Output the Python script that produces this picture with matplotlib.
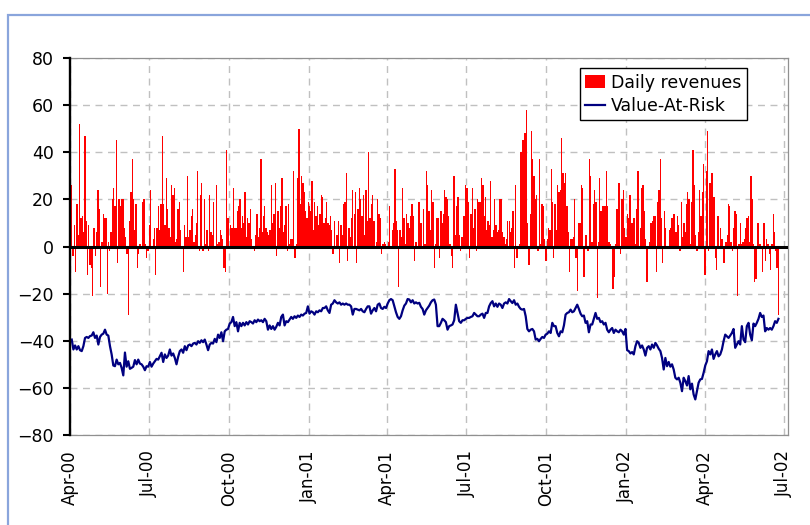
import numpy as np
import pandas as pd
import matplotlib
matplotlib.use("Agg")
import matplotlib.pyplot as plt
from matplotlib.patches import Rectangle, Patch
from matplotlib.lines import Line2D

# daily revenues left to right (Apr-00 .. Jun-02)
revenues = [
    26, -4, 9, -11, 18, 5, 52, 12, 13, 6, 47, 11, -12, 9, -8, -9, -21, 8, -4, 6,
    24, 16, -17, 2, 14, 12, 12, -20, 2, -2, 6, 20, 25, 17, 45, -7, 20, 17, 20, 20,
    8, 4, -3, -29, 11, 23, 37, 20, 7, 18, -9, -3, 1, -1, 19, 20, 1, -5, -2, 9,
    24, -1, 3, 8, -12, 8, 17, 7, 18, 47, 18, 9, 29, 16, 8, 4, 26, 22, 25, 2,
    3, 16, 19, 7, -1, -11, 9, 4, 30, 4, 7, 13, 16, 2, 5, 10, 32, -2, 22, 27,
    -2, 20, 1, 7, -2, 22, 6, 5, 19, 0, 26, 1, 2, 7, 5, 3, -9, -11, 41, 12,
    0, 9, 8, 25, 8, 8, 15, 17, 20, 8, 13, 10, 23,
    4, 12, 10, 16, 3, 0, -2, 5, 14, 4, 8, 37, 6, 13, 17, 8, 6, 5, 7, 26,
    10, 14, 27, -4, 15, 8, 17, 29, 6, 9, 17, -2, 18, 1, 3, 3, 32, -5, 1, 29,
    50, 18, 30, 27, 23, 15, 12, 19, 17, 15, 28, 7, 19, 13, 17, 9, 14, 22, 21, 10,
    12, 19, 10, 9, 13, 7, -3, 11, 0, 5, 11, -7, 9, 5, 18, 19, 31, -6, 8, 4,
    12, 24, 14, 23, -7, 16, 25, 20, 13, 22, 5, 24, 11, 40, 12, 18, 22, 11, -1, 2,
    20, 14, 12, -3, 1, 2, 1, -1, 2, 17, 0, 7, 10, 33, 11, 7, -17, 7, 4, 25,
    12, 1, 14, 10, 8, 13, 18, 13, -6, 2, -1, 19,
    19, 10, -1, 16, 1, 32, 26, 15, 7, 24, 19, -9, 1, 12, 12, -5, 15, 10, 14, 24,
    21, 20, 13, 1, -4, -9, 30, 5, 17, 21, 5, -2, 4, 13, 13, 26, 25, 19, -5, 14,
    25, 8, 16, -2, 20, 19, 19, 29, 26, 13, 21, 7, 11, 9, 28, 4, 7, 20, 9, 6,
    7, 20, 20, 6, 4, 1, 3, 11, 11, 6, 8, 15, -9, 26, -5, 0, 1, 40, 45, 45,
    48, 58, 10, -8, 14, 49, 37, 30, 20, 22, -2, 37, 1, 18, 17, 3, -6, 3, 8, 7,
    33, 19, -5, 18, 7, 26, 23, 24, 46, 31, 27, 31, 17, 6, -11, 3, 3, 4, 20, -5,
    -19, 10, 10, 26, 25, -13, 5, 5, -2, 37, 30, 2, 18, 24, 19, -22, 2, 29, 15, 17,
    17,
    17, 32, 17, 2, 1, 0, -18, -13, 1, 16, 27, 27, -3, 20, 24, 8, 4, 14, 12, 22,
    10, 10, 12, 1, 16, 32, -1, 8, 25, 26, 15, 3, -15, -1, 2, 10, 11, 13, 13, -11,
    19, 24, 37, 12, -7, 15, 8, 0, -1, 7, 8, 12, 14, 14, 6, 13, 9, -2, 19, 4,
    10, 6, 18, 23, 20, 1, 19, 41, 26, 5, -2, 6, 24, 13, 23, 35, -12, 32, 49, -2,
    27, 31, 31, 21, -5, -10, 13, -1, 8, 3, -7, -7, 2, 5, 18, 17, 2, -2, 8, 15,
    14, -21, 1, 10, 1, 2, 3, 8, 12, 13, 2, 30, 20, 1, -15, -14, 10, 10, 1, -1,
    -11, 10, -6, 3, 1, -3, -10, 1, 14, 6, -2, -9, -29,
]

# value-at-risk line, same period
var = [
    -39.5, -43.7, -42, -43.7, -42.3, -44, -44.4, -42.3, -38.8, -38.4, -38.8, -38, -37.8, -36.4, -38.8,
    -37.8, -41.6, -38.4, -37.4, -37, -35.3, -37.4, -37.8, -42.3, -45.8, -50.5, -50.8, -48, -50, -49.4,
    -51.5, -54.7, -45, -51, -48.7, -51.9, -51.5, -51, -48.2, -50, -48, -49.7, -50, -51, -52.5,
    -50.8, -51, -49, -51, -49.7, -48.7, -47.7, -48, -46.6, -45.1, -49, -45.8, -47.3, -46.3, -43.7,
    -46.3, -45.4, -47.3, -50, -46.8, -44.4, -43.7, -45.1, -42.3, -44, -42, -41.6, -42.3, -41.2, -40.9,
    -41.6, -40.2, -40.9, -39.8, -40.6, -39.5, -41.6, -44, -41.6, -40.9, -41.2, -39.2, -40.6, -37.4, -38.8,
    -36.4, -40.2, -36, -35.3, -35, -32.7, -32.1, -29.9, -33.8, -32.1, -36, -32.4, -33.8, -32.4, -33.5,
    -32.1, -33.1, -31.7, -32.1, -32.7, -31.3, -32.1, -31, -31.7, -31.3, -32.1, -30.7, -31.7, -35.3, -33.5,
    -35, -33.8, -35.3, -34.1, -32.4, -33.5, -29.9, -28.9, -33.5, -31.7, -32.1, -31, -29.9, -30.7, -29.6,
    -30.3, -29.3, -29.9, -28.9, -29.3, -28.5, -28.2, -25.4, -28.5, -27.5, -27.9, -28.9, -27.5, -27.9, -27.1,
    -27.5, -26.1, -26.1, -25.4, -27.1, -28.2, -24.7, -24.2, -22.8, -23.7, -24.2, -23.7, -24.7, -24.2, -24.7,
    -24.2, -24.7, -24.7, -25.4, -28.9, -26.5, -26.5, -26.8, -27.1, -26.5, -27.5, -27.9, -26.5, -25.4, -25.4,
    -28.5, -27.1, -26.1, -27.5, -24.7, -24.2, -26.1, -26.5, -25.6, -26.1, -24.2, -22.8, -22.3, -22.8, -25.4,
    -27.9, -29.9, -30.7, -29.6, -27.1, -25.1, -24.2, -22.3, -22.5, -23.7, -22.8, -24.2, -23.7, -24.2, -23.9,
    -25.6, -26.5, -28.9, -27.1, -26.1, -25.1, -23.7, -22.8, -22.5,
    -24.7, -33.8, -33.8, -32.4, -30.7, -31.3, -32.1, -35.3, -33.8, -33.5, -33.1, -31.3, -24.7, -28.2, -31.7,
    -32.4, -31.3, -31.3, -30.7, -30.3, -30.3, -29.9, -29.6, -28.2, -28.9, -29.6, -29.6, -28.9, -28.5, -30.3,
    -28.2, -28.2, -25.4, -24, -23.2, -25.4, -24.2, -25.6, -24.2, -24.7, -26.1, -24.2, -23.7, -24.2, -22.3,
    -23.2, -24, -22.8, -24.7, -24.2, -25.6, -26.5, -26.8, -26.5, -29.6, -35, -36, -35.3, -35, -36,
    -39.5, -39.2, -40.2, -39.2, -38.4, -38.8, -37.4, -37, -36, -36.7, -32.4, -33.8, -33.8, -36.7, -38.1,
    -36, -36.4, -33.5, -28.9, -28.2, -27.9, -26.8, -27.9, -27.5, -26.1, -24.7, -26.5, -28.5, -29.6, -29.3,
    -32.4, -31.7, -36.4, -33.1, -33.1, -30.7, -28.2, -30.7, -30.3, -32.1, -31.7, -33.1, -32.4, -35.3, -36.4,
    -35.3, -34.6, -36.7, -35.3, -36, -36.4, -35.3, -36, -37.4, -35, -44, -44.4, -45.4, -44.8, -45.8,
    -42.3, -40.2, -40.9, -43, -42, -43.7, -46.3, -43, -42.3, -43.7, -41.6, -43, -40.9, -42, -43.4,
    -44.4, -47.3, -52.2, -47.3, -50.8, -49, -51, -50, -52.2, -55.7, -56.4, -55.7, -57.8, -61.4, -55.7,
    -57.1, -59, -55, -60.6, -58.2, -62.8, -64.9, -61.4, -57.8, -56.4, -56.2, -53.6, -50.5, -48.7, -44.4,
    -45.8, -43.7, -47.7, -45.8, -44.4, -46.6, -45.8, -43.7, -40.2, -37.4, -38.1, -38.8, -37.8, -36.7, -35,
    -43, -41.6, -40.2, -41.6, -33.8, -39.5, -40.6, -33.8, -32.4, -37.4, -39.8, -32.7, -33.8, -32.4, -30.7,
    -28.2, -29.9, -29.3, -36, -34.6, -35.3, -34.6, -35.3, -33.8, -31.7, -32.4, -30.7,
]

first_day = "2000-04-03"
last_day = "2002-06-25"
quarters = pd.date_range("2000-04-01", "2002-07-01", freq="QS")
quarter_labels = [d.strftime("%b-%y") for d in quarters]
y_ticks = list(range(-80, 81, 20))

rev_dates = pd.date_range(first_day, last_day, periods=len(revenues))
var_dates = pd.date_range(first_day, last_day, periods=len(var))

plt.rcParams["font.family"] = "DejaVu Sans"
fig = plt.figure(figsize=(8.1, 5.25), dpi=100)
ax = fig.add_axes([70 / 810, 1 - 435 / 525, 718 / 810, 377 / 525])

ax.bar(rev_dates, revenues, width=1.5, color="red", linewidth=0, zorder=2)
ax.axhline(0, color="black", lw=2.2, zorder=3)
ax.plot(var_dates, var, color="#000080", lw=1.6, zorder=4)

ax.set_xlim(pd.Timestamp("2000-04-01"), pd.Timestamp("2002-07-06"))
ax.set_ylim(-80, 80)
ax.set_yticks(y_ticks)
ax.set_xticks(quarters)
ax.set_xticklabels(quarter_labels, rotation=90)

ax.grid(True, ls=(0, (5, 4)), color="#c0c0c0", lw=1, zorder=0)
ax.set_axisbelow(True)

for side in ["top", "right", "bottom"]:
    ax.spines[side].set_color("#909090")
    ax.spines[side].set_linewidth(0.9)
ax.spines["left"].set_color("black")
ax.spines["left"].set_linewidth(1.7)
ax.spines["left"].set_zorder(5)

ax.tick_params(axis="y", length=5, width=1.5, color="black", pad=6.5, labelsize=12.5)
ax.tick_params(axis="x", length=0, pad=11, labelsize=12)

handles = [Patch(facecolor="red", edgecolor="none"),
           Line2D([], [], color="#000080", lw=1.6)]
leg = ax.legend(handles, ["Daily revenues", "Value-At-Risk"],
                loc="upper right", bbox_to_anchor=(0.9425, 0.9727), borderaxespad=0,
                fontsize=12.5, fancybox=False, framealpha=1, edgecolor="black",
                handlelength=1.15, handletextpad=0.35, labelspacing=0.3, borderpad=0.3)
leg.get_frame().set_linewidth(1.0)

# light blue chart border, cut off at right and bottom like the reference
fig.patches.append(Rectangle((7.5 / 810, -0.1), 1.2, 1 - 14.5 / 525 + 0.1,
                             transform=fig.transFigure, fill=False,
                             edgecolor="#8aa5dc", lw=1.6))

fig.savefig("out.png", dpi=100)
